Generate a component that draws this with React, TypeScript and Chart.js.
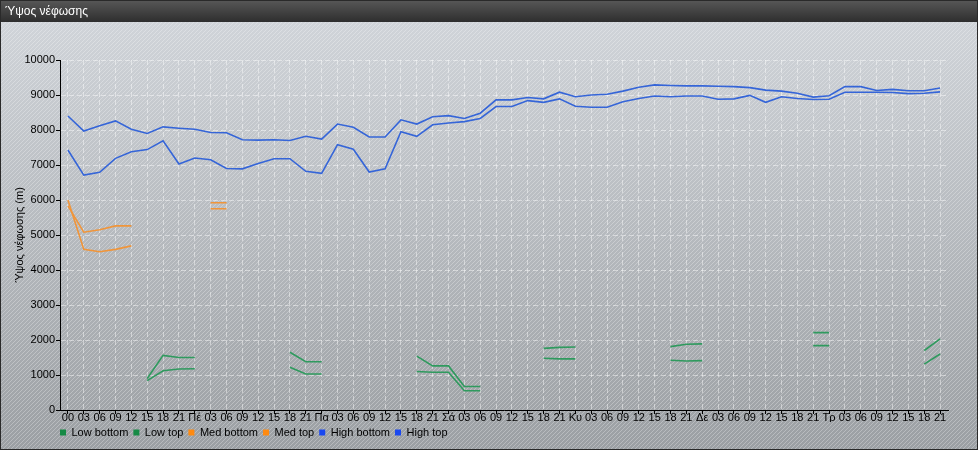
import { useEffect, useRef } from 'react';
import { Chart, registerables } from 'chart.js';

Chart.register(...registerables);

const CHART_TITLE = 'Ύψος νέφωσης';
const Y_TITLE = 'Ύψος νέφωσης (m)';
const SERIES_NAMES = ['Low bottom', 'Low top', 'Med bottom', 'Med top', 'High bottom', 'High top'];

const labels = [
  '00', '03', '06', '09', '12', '15', '18', '21',
  'Πέ', '03', '06', '09', '12', '15', '18', '21',
  'Πα', '03', '06', '09', '12', '15', '18', '21',
  'Σά', '03', '06', '09', '12', '15', '18', '21',
  'Κυ', '03', '06', '09', '12', '15', '18', '21',
  'Δε', '03', '06', '09', '12', '15', '18', '21',
  'Τρ', '03', '06', '09', '12', '15', '18', '21',
];

const N = null;

const lowBottom = [
  N, N, N, N, N, 840, 1120, 1170, 1180, N, N, N, N, N, 1220, 1030, 1030, N, N, N, N, N,
  1100, 1080, 1080, 550, 550, N, N, N, 1480, 1460, 1460, N, N, N, N, N, 1420, 1400, 1410,
  N, N, N, N, N, N, 1840, 1840, N, N, N, N, N, 1310, 1600,
];

const lowTop = [
  N, N, N, N, N, 900, 1560, 1500, 1500, N, N, N, N, N, 1650, 1380, 1380, N, N, N, N, N,
  1540, 1260, 1260, 670, 670, N, N, N, 1760, 1790, 1800, N, N, N, N, N, 1810, 1880, 1890,
  N, N, N, N, N, N, 2210, 2210, N, N, N, N, N, 1700, 2030,
];

const medBottom = [
  6000, 4590, 4520, 4590, 4690, N, N, N, N, 5750, 5750,
  N, N, N, N, N, N, N, N, N, N, N, N, N, N, N,
  N, N, N, N, N, N, N, N, N, N, N, N, N, N, N,
  N, N, N, N, N, N, N, N, N, N, N, N, N, N, N,
];

const medTop = [
  5830, 5080, 5150, 5260, 5260, N, N, N, N, 5920, 5920,
  N, N, N, N, N, N, N, N, N, N, N, N, N, N, N,
  N, N, N, N, N, N, N, N, N, N, N, N, N, N, N,
  N, N, N, N, N, N, N, N, N, N, N, N, N, N, N,
];

const highBottom = [
  7430, 6710, 6790, 7190, 7380, 7440, 7690, 7030, 7200, 7150,
  6900, 6890, 7040, 7180, 7180, 6820, 6760, 7580, 7450, 6800,
  6890, 7950, 7820, 8150, 8200, 8240, 8330, 8670, 8670, 8840,
  8790, 8890, 8680, 8650, 8650, 8810, 8900, 8970, 8950, 8970,
  8970, 8880, 8890, 8990, 8790, 8950, 8900, 8870, 8880, 9080,
  9080, 9080, 9070, 9040, 9050, 9090,
];

const highTop = [
  8400, 7970, 8120, 8260, 8020, 7900, 8090, 8050, 8020, 7930,
  7920, 7720, 7710, 7720, 7700, 7820, 7740, 8170, 8080, 7800,
  7800, 8290, 8170, 8380, 8410, 8330, 8480, 8860, 8860, 8930,
  8890, 9080, 8950, 9000, 9020, 9110, 9220, 9290, 9270, 9260,
  9260, 9250, 9240, 9210, 9140, 9110, 9050, 8940, 8980, 9240,
  9240, 9130, 9160, 9120, 9120, 9200,
];

const Y_MIN = 0;
const Y_MAX = 10000;
const Y_STEP = 1000;

const LINE_COLORS = ['#2f9a5e', '#2f9a5e', '#f0953a', '#f0953a', '#3565d8', '#3565d8'];
const BOX_COLORS = ['#168a45', '#168a45', '#ff8a10', '#ff8a10', '#1a48f0', '#1a48f0'];
const GRID = 'rgba(255,255,255,0.45)';
const FONT = "'Liberation Sans', Arial, sans-serif";

export default function App() {
  const ref = useRef<HTMLCanvasElement>(null);

  useEffect(() => {
    document.body.style.margin = '0';
    const canvas = ref.current;
    if (!canvas) return;

    const stripe = document.createElement('canvas');
    stripe.width = 4;
    stripe.height = 4;
    const sc = stripe.getContext('2d')!;
    sc.strokeStyle = 'rgba(255,255,255,0.28)';
    sc.lineWidth = 1;
    sc.beginPath();
    sc.moveTo(0, 4); sc.lineTo(4, 0);
    sc.moveTo(-1, 1); sc.lineTo(1, -1);
    sc.moveTo(3, 5); sc.lineTo(5, 3);
    sc.stroke();

    const bgPlugin = {
      id: 'bgPlugin',
      beforeDraw(chart: any) {
        const { ctx, width, height } = chart;
        ctx.save();
        const g = ctx.createLinearGradient(0, 22, 0, height);
        g.addColorStop(0, '#d0d4d9');
        g.addColorStop(1, '#9b9fa3');
        ctx.fillStyle = g;
        ctx.fillRect(0, 0, width, height);
        const pat = ctx.createPattern(stripe, 'repeat');
        if (pat) {
          ctx.fillStyle = pat;
          ctx.fillRect(0, 22, width, height - 22);
        }
        const tg = ctx.createLinearGradient(0, 0, 0, 22);
        tg.addColorStop(0, '#585858');
        tg.addColorStop(1, '#2e2e2e');
        ctx.fillStyle = tg;
        ctx.fillRect(0, 0, width, 22);
        ctx.strokeStyle = '#2a2a2a';
        ctx.lineWidth = 1;
        ctx.strokeRect(0.5, 0.5, width - 1, height - 1);
        ctx.restore();
      },
      afterLayout(chart: any) {
        const lg = chart.legend;
        if (lg) {
          const d = 55 - lg.left;
          lg.left += d;
          lg.right += d;
        }
      },
    };

    const seriesData = [lowBottom, lowTop, medBottom, medTop, highBottom, highTop];

    const gridOpts = {
      color: (c: any) => (c.tick && c.tick.value === 0 && c.scale.axis === 'y' ? 'rgba(0,0,0,0)' : GRID),
      tickColor: '#000',
      tickLength: 4,
      lineWidth: 1,
      tickBorderDash: [],
    };
    const borderOpts = { display: true, color: '#000', width: 1, dash: [5, 3], z: 1 };

    const chart = new Chart(canvas, {
      type: 'line',
      data: {
        labels,
        datasets: seriesData.map((d, i) => ({
          label: SERIES_NAMES[i],
          data: d,
          borderColor: LINE_COLORS[i],
          backgroundColor: LINE_COLORS[i],
          borderWidth: 1.6,
          pointRadius: 0,
          pointHoverRadius: 0,
          fill: false,
          spanGaps: false,
          tension: 0,
        })),
      },
      options: {
        animation: false,
        responsive: false,
        devicePixelRatio: 1,
        events: [],
        font: { family: FONT },
        layout: { padding: { left: 5, right: 30, top: 0, bottom: 6 } },
        scales: {
          x: {
            type: 'category',
            offset: true,
            grid: gridOpts as any,
            border: borderOpts as any,
            ticks: {
              color: '#000',
              font: { size: 11, lineHeight: 1, family: FONT },
              autoSkip: false,
              maxRotation: 0,
              minRotation: 0,
              padding: -2,
            },
            afterFit: (s: any) => { s.height = 12; },
          },
          y: {
            min: Y_MIN,
            max: Y_MAX,
            grid: gridOpts as any,
            border: borderOpts as any,
            ticks: {
              stepSize: Y_STEP,
              color: '#000',
              font: { size: 11, family: FONT },
              padding: 1,
              callback: (v: any) => String(v),
            },
            title: {
              display: true,
              text: Y_TITLE,
              color: '#000',
              font: { size: 11, family: FONT },
              padding: { top: 8, bottom: 0 },
            },
            afterFit: (s: any) => { s.width = 55; },
          },
        },
        plugins: {
          title: {
            display: true,
            text: CHART_TITLE,
            align: 'start',
            color: '#fff',
            font: { size: 12, weight: 'normal', family: FONT },
            padding: { top: 4, bottom: 41.6 },
          },
          legend: {
            position: 'bottom',
            align: 'start',
            maxHeight: 22,
            labels: {
              boxWidth: 6,
              boxHeight: 6,
              padding: 5,
              color: '#000',
              font: { size: 11, family: FONT },
              generateLabels: (ch: any) => {
                const items = (Chart.defaults.plugins.legend.labels as any).generateLabels(ch);
                items.forEach((it: any, i: number) => {
                  it.fillStyle = BOX_COLORS[i];
                  it.strokeStyle = BOX_COLORS[i];
                  it.lineWidth = 0;
                });
                return items;
              },
            },
          },
          tooltip: { enabled: false },
        },
      } as any,
      plugins: [bgPlugin],
    });

    return () => chart.destroy();
  }, []);

  return <canvas ref={ref} width={978} height={450} style={{ display: 'block' }} />;
}
